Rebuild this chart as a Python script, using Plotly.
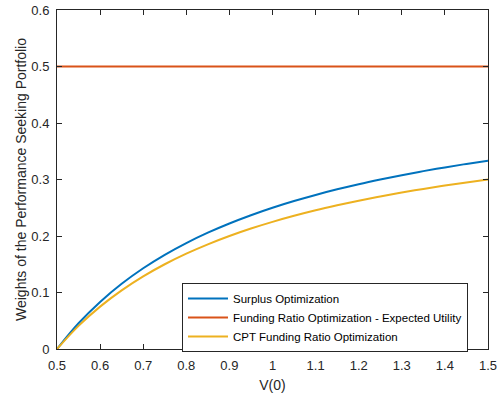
import plotly.graph_objects as go

# Initial funding ratio V(0)
v0 = [0.50, 0.55, 0.60, 0.65, 0.70, 0.75, 0.80, 0.85, 0.90, 0.95, 1.00,
      1.05, 1.10, 1.15, 1.20, 1.25, 1.30, 1.35, 1.40, 1.45, 1.50]

# Weights of the performance seeking portfolio per strategy
surplus = [0.0000, 0.0455, 0.0833, 0.1154, 0.1429, 0.1667, 0.1875, 0.2059, 0.2222, 0.2368, 0.2500,
           0.2619, 0.2727, 0.2826, 0.2917, 0.3000, 0.3077, 0.3148, 0.3214, 0.3276, 0.3333]
funding_eu = [0.5] * len(v0)
cpt = [0.0000, 0.0409, 0.0750, 0.1038, 0.1286, 0.1500, 0.1688, 0.1853, 0.2000, 0.2132, 0.2250,
       0.2357, 0.2455, 0.2543, 0.2625, 0.2700, 0.2769, 0.2833, 0.2893, 0.2948, 0.3000]

names = ["Surplus Optimization",
         "Funding Ratio Optimization - Expected Utility",
         "CPT Funding Ratio Optimization"]
colors = ["#0072BD", "#D95319", "#EDB120"]

x_ticks = [0.5, 0.6, 0.7, 0.8, 0.9, 1.0, 1.1, 1.2, 1.3, 1.4, 1.5]
x_labels = ["0.5", "0.6", "0.7", "0.8", "0.9", "1", "1.1", "1.2", "1.3", "1.4", "1.5"]
y_ticks = [0, 0.1, 0.2, 0.3, 0.4, 0.5, 0.6]
y_labels = ["0", "0.1", "0.2", "0.3", "0.4", "0.5", "0.6"]

fig = go.Figure()
for ys, name, c in zip([surplus, funding_eu, cpt], names, colors):
    fig.add_trace(go.Scatter(x=v0, y=ys, mode="lines", name=name,
                             line=dict(color=c, width=2, shape="spline", smoothing=1.0)))

axis_common = dict(showgrid=False, zeroline=False, showline=True, linecolor="#262626",
                   linewidth=1, mirror="ticks", ticks="inside", ticklen=5,
                   tickcolor="#262626", tickwidth=1, automargin=False,
                   ticklabelstandoff=4,
                   tickfont=dict(family="Liberation Sans, Arial", size=13, color="#262626"))

fig.update_layout(
    width=502, height=396,
    margin=dict(l=57, r=14, t=10, b=47),
    paper_bgcolor="white", plot_bgcolor="white",
    font=dict(family="Liberation Sans, Arial", color="#262626"),
    xaxis=dict(range=[0.5, 1.5], tickvals=x_ticks, ticktext=x_labels,
               title=dict(text="V(0)", font=dict(size=14), standoff=8), **axis_common),
    yaxis=dict(range=[0, 0.6], tickvals=y_ticks, ticktext=y_labels,
               title=dict(text="Weights of the Performance Seeking Portfolio",
                          font=dict(size=14), standoff=1), **axis_common),
    legend=dict(x=0.29, y=0.195, xanchor="left", yanchor="top",
                bgcolor="white", bordercolor="#262626", borderwidth=1,
                itemwidth=40,
                font=dict(size=11.5, color="#000000"), tracegroupgap=0),
    showlegend=True,
)

fig.write_html("out.html")
